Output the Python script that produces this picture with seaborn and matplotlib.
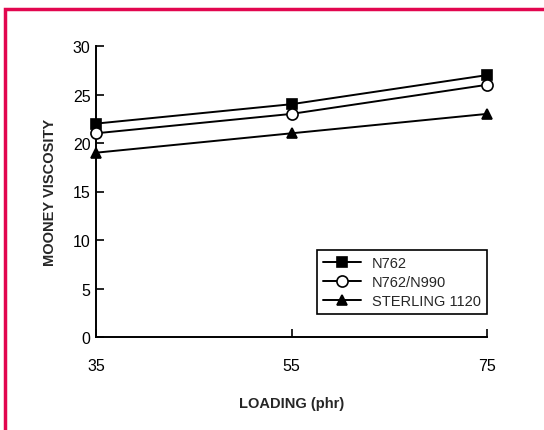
import pandas as pd
import matplotlib
matplotlib.use("Agg")
import matplotlib.pyplot as plt
import seaborn as sns
from matplotlib.patches import Rectangle

# dados
loading = [35, 55, 75]
n762 = [22, 24, 27]
n762_n990 = [21, 23, 26]
sterling_1120 = [19, 21, 23]
series_names = ["N762", "N762/N990", "STERLING 1120"]

df = pd.DataFrame({
    "loading": loading * 3,
    "viscosity": n762 + n762_n990 + sterling_1120,
    "series": [series_names[0]] * 3 + [series_names[1]] * 3 + [series_names[2]] * 3,
})

sns.set_theme(style="white")
plt.rcParams["font.family"] = ["Liberation Sans", "DejaVu Sans"]

fig = plt.figure(figsize=(5.44, 4.31), dpi=100)
ax = fig.add_axes([96 / 544, 1 - 338 / 431, (487 - 96) / 544, (338 - 47) / 431])

markers = {"N762": "s", "N762/N990": "o", "STERLING 1120": "^"}
for name in series_names:
    d = df[df["series"] == name]
    sns.lineplot(data=d, x="loading", y="viscosity", ax=ax, color="black",
                 marker=markers[name], markersize=8 if name == "N762/N990" else 6.5,
                 markerfacecolor="white" if name == "N762/N990" else "black",
                 markeredgecolor="black", markeredgewidth=1.2,
                 linewidth=1.4, label=name, clip_on=False, zorder=3)

ax.set_xlim(35, 75)
ax.set_ylim(0, 30)
ax.set_xticks([35, 55, 75])
ax.set_yticks(range(0, 31, 5))
ax.tick_params(axis="both", direction="in", length=6, width=1.2, colors="black",
               labelsize=11.5, left=True, bottom=True)
ax.tick_params(axis="x", pad=15)
ax.tick_params(axis="y", pad=4)
for s in ["top", "right"]:
    ax.spines[s].set_visible(False)
for s in ["left", "bottom"]:
    ax.spines[s].set_color("black")
    ax.spines[s].set_linewidth(1.4)

ax.set_xlabel("LOADING (phr)", fontsize=10.5, fontweight="bold", labelpad=17)
ax.set_ylabel("MOONEY VISCOSITY", fontsize=10.5, fontweight="bold", labelpad=11)

leg = ax.legend(loc="lower right", bbox_to_anchor=(1.0, 0.08), fontsize=10.5,
                frameon=True, fancybox=False, edgecolor="black", framealpha=1,
                handlelength=2.6, borderpad=0.4, labelspacing=0.35, borderaxespad=0)
leg.get_frame().set_linewidth(1.2)

# borda vermelha do quadro
fig.patches.append(Rectangle((5 / 544, -0.1), 1.2, 1 - 9.5 / 431 + 0.1,
                             transform=fig.transFigure, fill=False,
                             edgecolor="#e2064f", linewidth=2.5))

fig.savefig("out.png", dpi=100)
